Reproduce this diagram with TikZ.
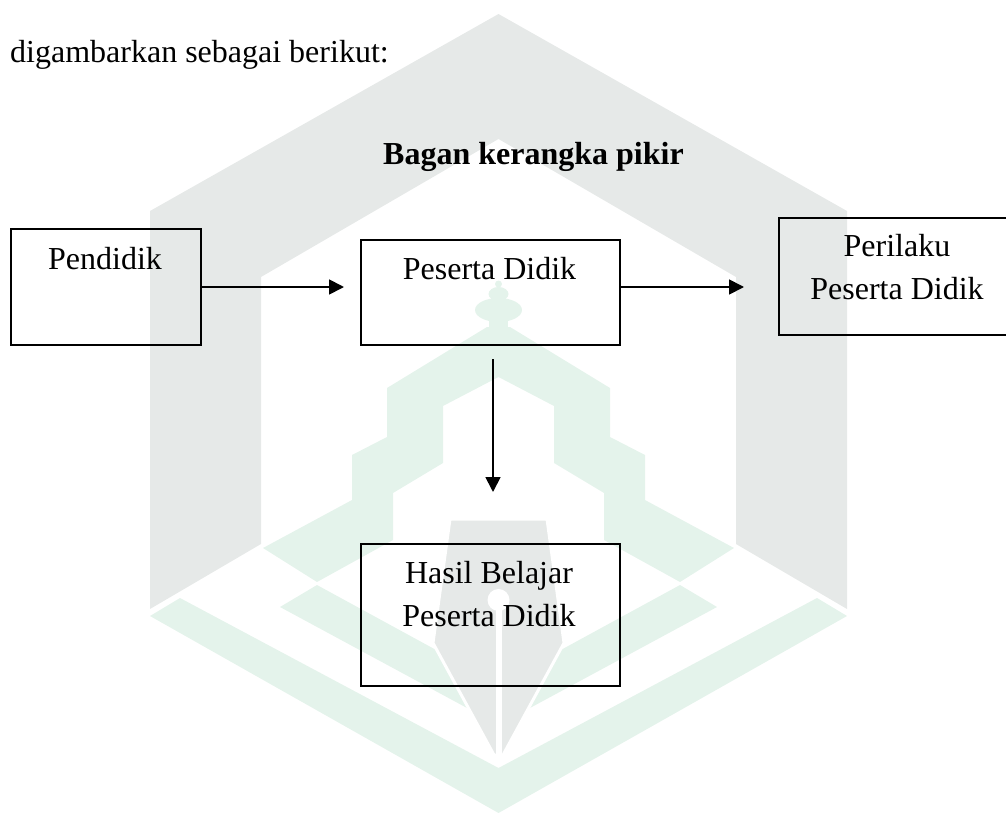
\documentclass[tikz,border=0pt]{standalone}
\usepackage{fontspec}
\setmainfont{Liberation Serif}
\usetikzlibrary{arrows.meta}
\definecolor{wmgray}{HTML}{E6E9E8}
\definecolor{wmgreen}{HTML}{E4F3EB}
\tikzset{
  box/.style={draw, line width=2pt, inner sep=0pt, anchor=north west},
  txt/.style={font=\fontsize{32}{43}\selectfont, inner sep=0pt},
  arr/.style={line width=1.8pt, -{Triangle[length=15pt,width=15pt]}},
  wmg/.style={fill=wmgray},
  wmn/.style={fill=wmgreen},
}
\begin{document}
\begin{tikzpicture}[x=1pt, y=-1pt]
\useasboundingbox (0,0) rectangle (1006,813);
% ---- watermark (logo) ----
\fill[wmg] (150,609) -- (150,211) -- (498.5,14) -- (847,211) -- (847,609) -- (736,544)
  -- (736,277) -- (498.5,139) -- (261,277) -- (261,544) -- cycle;
\fill[wmn] (150,616) -- (498.5,813) -- (847,616) -- (817,598) -- (498.5,768) -- (180,598) -- cycle;
\fill[wmn] (487,327) -- (387,388) -- (387,437) -- (352,455) -- (352,500) -- (263,548)
  -- (317,582) -- (393,540) -- (393,493) -- (443,463) -- (443,406) -- (498.5,377)
  -- (554,406) -- (554,463) -- (604,493) -- (604,540) -- (680,582) -- (734,548)
  -- (645,500) -- (645,455) -- (610,437) -- (610,388) -- (510,327) -- cycle;
\fill[wmn] (489,316) rectangle (508,330);
\fill[wmn] (498.5,310) ellipse [x radius=23.5, y radius=12];
\fill[wmn] (498.5,294) ellipse [x radius=10, y radius=7];
\fill[wmn] (498.5,284) circle [radius=3.5];
\fill[wmn] (280,607) -- (317,585) -- (498.5,684) -- (680,585) -- (717,607) -- (498.5,725) -- cycle;
\filldraw[wmg, draw=white, line width=3pt] (450,519) -- (547,519) -- (564,643) -- (503,755)
  -- (494,755) -- (433,643) -- cycle;
\fill[white] (498.5,600) circle [radius=11];
\fill[white] (495.5,600) rectangle (501.5,758);
% ---- diagram ----
\node[txt, anchor=base west] (intro) at (10,63) {digambarkan sebagai berikut:};
\node[txt, anchor=base, font={\fontsize{32}{43}\selectfont\bfseries}] (title) at (533.5,165) {Bagan kerangka pikir};
\node[box, minimum width=190pt, minimum height=116pt] (pend) at (10,228) {};
\node[box, minimum width=259pt, minimum height=105pt] (ps) at (360,239) {};
\node[box, minimum width=240pt, minimum height=117pt] (peri) at (778,217) {};
\node[box, minimum width=259pt, minimum height=142pt] (hasil) at (360,543) {};
\node[txt, anchor=base] (tpend) at (105,269) {Pendidik};
\node[txt, anchor=base] (tps) at (489.5,279) {Peserta Didik};
\node[txt, anchor=base, align=center] (tperi) at (897,299) {Perilaku\\Peserta Didik};
\node[txt, anchor=base, align=center] (thasil) at (489,626) {Hasil Belajar\\Peserta Didik};
\draw[arr, shorten >=16pt] (pend.east) -- (pend.east -| ps.west);
\draw[arr, shorten >=34pt] (pend.east -| ps.east) -- (pend.east -| peri.west);
\draw[arr, shorten <=13pt, shorten >=51pt] ([xshift=2.5pt]ps.south) -- ([xshift=2.5pt]hasil.north);
\end{tikzpicture}
\end{document}
